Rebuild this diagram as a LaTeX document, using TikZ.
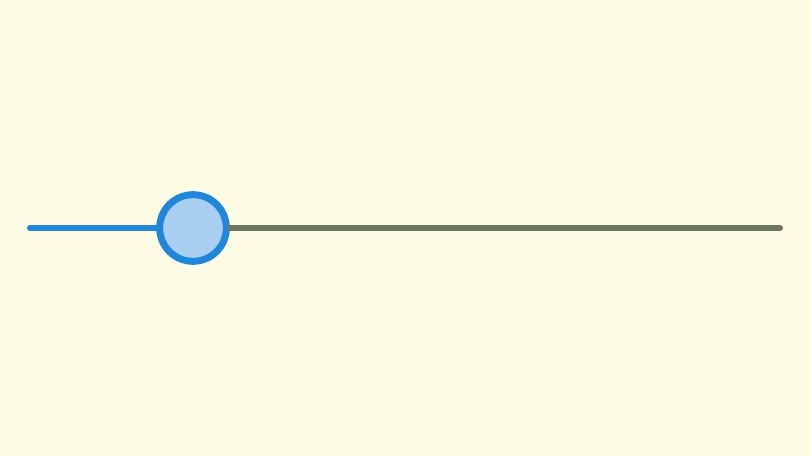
\documentclass[tikz,border=0pt]{standalone}
\usepackage{tikz}
\definecolor{bgyellow}{HTML}{FFFCE6}
\definecolor{trackblue}{HTML}{1F86DA}
\definecolor{trackgrey}{HTML}{6A775E}
\definecolor{thumbfill}{HTML}{A9CFF0}
\begin{document}
\begin{tikzpicture}[x=0.75pt,y=0.75pt,yscale=-1,xscale=1]
%set diagram left start at 0, and has height of 456
\useasboundingbox (0,0) rectangle (811,456);
\fill[bgyellow] (0,0) rectangle (811,456);

%Shape: Circle [id:thumb] 
\node (thumb) [circle,draw=trackblue,fill=thumbfill,line width=5.25pt,inner sep=0pt,minimum size=50pt] at (193,228) {};
\coordinate (start) at (30,228);
\coordinate (end) at (780,228);

%Straight Lines [id:trackleft] 
\draw [trackblue,line width=4.5pt,line cap=round] (start) -- (thumb.west) ;
%Straight Lines [id:trackright] 
\draw [trackgrey,line width=4.5pt,line cap=round] (thumb.east) -- (end) ;

\end{tikzpicture}
\end{document}
